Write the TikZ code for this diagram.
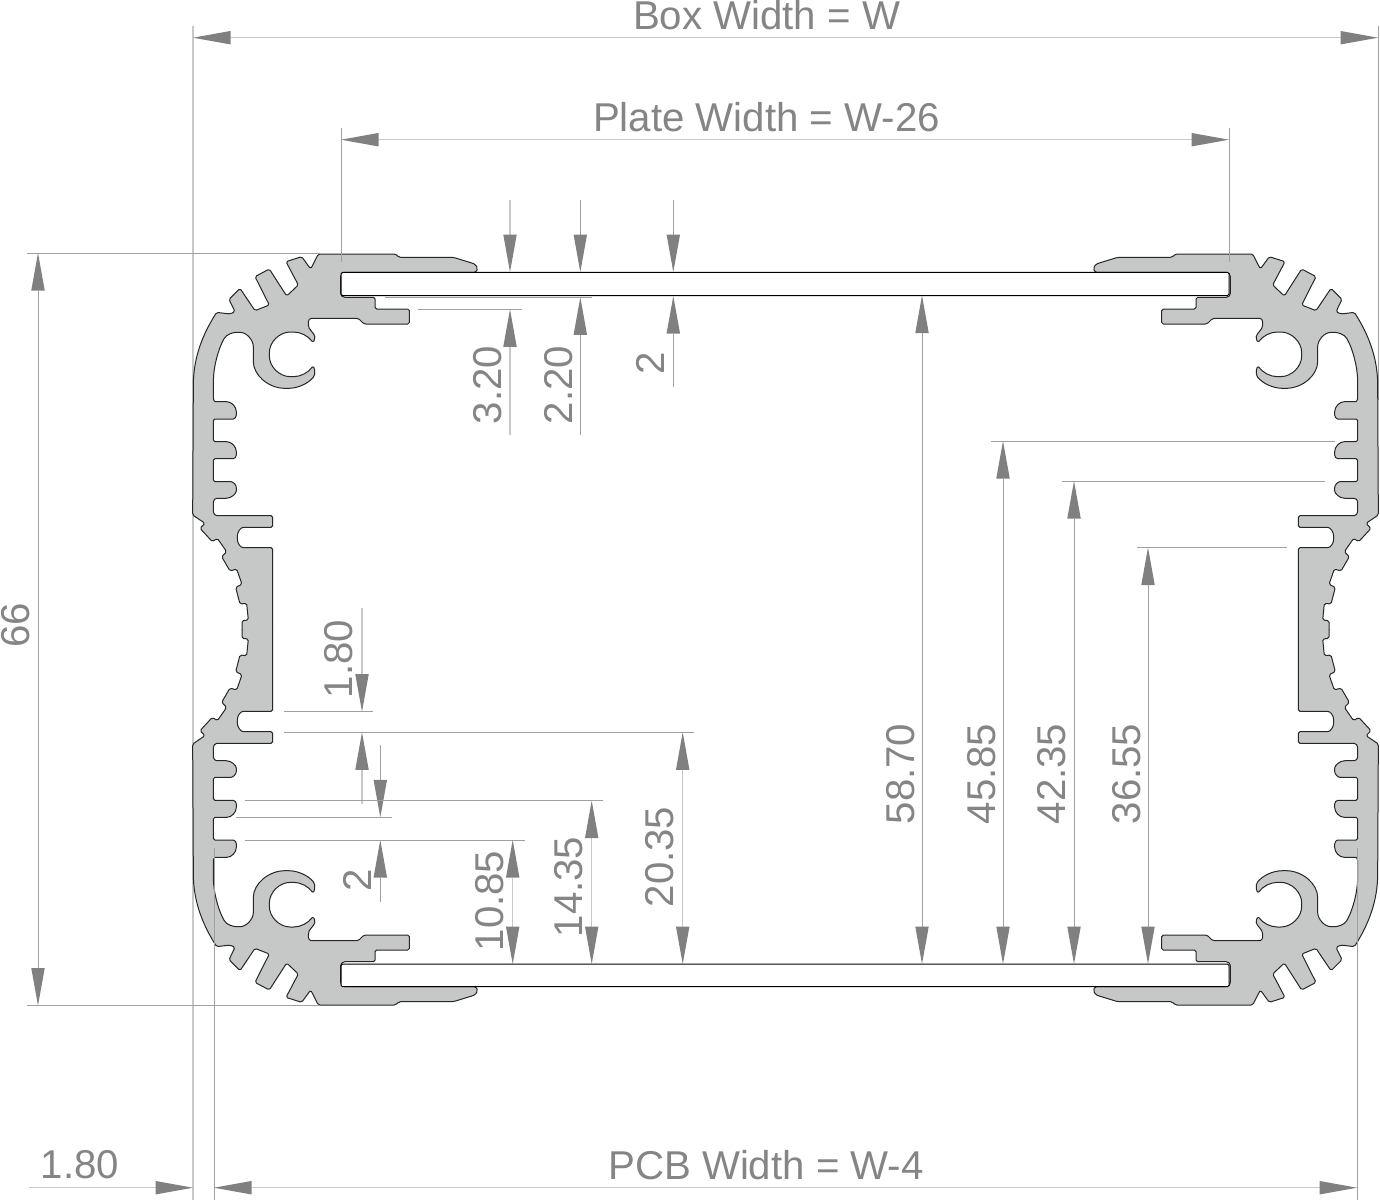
\documentclass[tikz,border=0pt]{standalone}
\usepackage{fontspec}
\setmainfont{Liberation Sans}
\usetikzlibrary{arrows.meta}
\definecolor{dimtext}{HTML}{858585}
\definecolor{dimtip}{HTML}{808080}
\definecolor{dimdark}{HTML}{A0A0A0}
\definecolor{dimlight}{HTML}{C8C8C8}
\definecolor{metal}{HTML}{C6C8C7}
\tikzset{
  dimhead/.tip={Triangle[length=37.5pt,width=13.5pt,color=dimtip,line width=0pt]},
  extline/.style={draw=dimdark,line width=1pt},
  extlight/.style={draw=dimlight,line width=1.3pt},
  both/.style={arrows={dimhead-dimhead}},
  endhead/.style={arrows={-dimhead}},
  label/.style={font=\fontsize{40.2}{40}\selectfont,text=dimtext,inner sep=0pt},
  vlabel/.style={label,rotate=90},
  profile/.style={fill=metal,draw=black!85,line width=1pt,line cap=round,line join=round,rounded corners=1.6pt},
  plate/.style={fill=white,draw=black,line width=1pt,rounded corners=1.5pt}
}
\newcommand{\quarterprofile}[1]{%
\begin{scope}[#1]
\path[profile] (278,1168.5) -- (278,923) -- (195,923)
 .. controls (180,923) and (172,908) .. (172,893)
 .. controls (172,876) and (182,862) .. (195,862)
 -- (278,862) -- (278,827) -- (115,827)
 .. controls (105,827) and (100,820) .. (100,810) -- (100,790)
 .. controls (100,780) and (106,775) .. (115,775) -- (133,775)
 .. controls (155,775) and (169,760) .. (169,748)
 .. controls (169,735) and (160,725) .. (148,725) -- (100,725) -- (100,656) -- (155,656)
 .. controls (165,656) and (169,650) .. (169,640)
 .. controls (169,620) and (155,605) .. (135,605) -- (100,605) -- (100,537) -- (155,537)
 .. controls (165,537) and (169,530) .. (169,520)
 .. controls (169,500) and (155,485) .. (135,485) -- (110,485)
 .. controls (103,485) and (100,478) .. (100,470) -- (100,430)
 .. controls (100,380) and (115,330) .. (130,300)
 .. controls (140,282) and (160,277) .. (175,277)
 .. controls (200,277) and (220,300) .. (220,325) -- (220,360)
 .. controls (220,405) and (265,445) .. (320,445)
 .. controls (355,445) and (385,430) .. (403,408)
 -- (405,395) -- (400,377)
 .. controls (385,398) and (362,410) .. (336,410)
 .. controls (298,410) and (268,380) .. (268,343)
 .. controls (268,306) and (298,276) .. (336,276)
 .. controls (362,276) and (385,288) .. (399,308)
 -- (405,295)
 .. controls (403,278) and (385,270) .. (385,250)
 .. controls (385,240) and (390,235) .. (398,235)
 -- (535,235) -- (552,252) -- (688,252) -- (688,207) -- (585,207) -- (585,172)
 -- (490,172) -- (482,165) -- (482,105) -- (490,97) -- (888,97) -- (893,85) -- (885,72)
 -- (820,52) -- (657,52) -- (647,42) -- (415,42) -- (392,87) -- (365,50) -- (318,65)
 -- (355,135) -- (320,168) -- (268,87) -- (225,110) -- (268,195) -- (225,212)
 -- (180,145) -- (147,178) -- (165,215) -- (150,222) -- (110,217)
 .. controls (70,280) and (40,350) .. (40,440) -- (38,825)
 -- (75,850) -- (60,865) -- (97,905) -- (112,895) -- (140,935) -- (125,950)
 -- (150,993) -- (170,987) -- (186,1033) -- (167,1042) -- (180,1092) -- (200,1090)
 -- (205,1140) -- (186,1142) -- (186,1168.5);
\end{scope}}
\begin{document}
\begin{tikzpicture}[x=1pt,y=-1pt]
\useasboundingbox (0,0) rectangle (1380,1200);
\fill[white] (0,0) rectangle (1380,1200);
% outer extension lines run behind the profile
\draw[extlight] (193,26) -- (193,1200);
\draw[extline] (1378,26) -- (1378,400);
% profile
\fill[metal] (243,625) rectangle (272,634);
\fill[metal] (1299,625) rectangle (1328,634);
\quarterprofile{shift={(180,240)},xscale=.33333,yscale=.33333}
\quarterprofile{shift={(1391,240)},xscale=-.33333,yscale=.33333}
\quarterprofile{shift={(180,1019)},xscale=.33333,yscale=-.33333}
\quarterprofile{shift={(1391,1019)},xscale=-.33333,yscale=-.33333}
\path[plate] (341,272.3) rectangle (1229,295.5);
\path[plate] (341,964) rectangle (1229,986.7);
% overall widths
\draw[extline] (214,848) -- (214,1200);
\draw[extline] (1357,848) -- (1357,1200);
\draw[extlight,both] (193,37.7) -- (1378,37.7);
\draw[extline] (341,128) -- (341,262);
\draw[extline] (1229,128) -- (1229,262);
\draw[extlight,both] (341,139.7) -- (1229,139.7);
\draw[extlight,both] (214,1187.7) -- (1357,1187.7);
\draw[extlight,endhead] (29,1187.7) -- (193,1187.7);
% height 66
\draw[extline] (27,253) -- (320,253);
\draw[extline] (27,1005.5) -- (320,1005.5);
\draw[extline,both] (38,253) -- (38,1005.5);
% plate slot dimensions
\draw[extlight,endhead] (510,200) -- (510,272);
\draw[extlight,endhead] (510,435) -- (510,309.3);
\draw[extline,endhead] (580.3,200) -- (580.3,272);
\draw[extline,endhead] (580.3,435) -- (580.3,297.3);
\draw[extline,endhead] (673.3,200) -- (673.3,272);
\draw[extline,endhead] (673.3,387) -- (673.3,296);
\draw[extline] (418,309.3) -- (522,309.3);
\draw[extline] (385,297.3) -- (592,297.3);
% right heights
\draw[extline,both] (922,295.5) -- (922,964);
\draw[extline] (991,441) -- (1335,441);
\draw[extline,both] (1003,441) -- (1003,964);
\draw[extline] (1062,481) -- (1325,481);
\draw[extline,both] (1074,481) -- (1074,964);
\draw[extline] (1137,547.5) -- (1287,547.5);
\draw[extline,both] (1148,547.5) -- (1148,964);
% left lower dimensions
\draw[extlight,endhead] (362,608) -- (362,711.7);
\draw[extlight,endhead] (362,804) -- (362,732.3);
\draw[extline] (284,711.7) -- (373,711.7);
\draw[extline] (284,732.3) -- (694,732.3);
\draw[extline,endhead] (380.3,745) -- (380.3,817.3);
\draw[extline,endhead] (380.3,901.7) -- (380.3,840);
\draw[extline] (236,817.3) -- (392,817.3);
\draw[extline] (245,800.7) -- (603,800.7);
\draw[extline] (245,840) -- (525,840);
\draw[extlight,both] (512.7,840) -- (512.7,964);
\draw[extlight,both] (591.7,800.7) -- (591.7,964);
\draw[extlight,both] (682.7,732.3) -- (682.7,964);
% labels
\node[label] (boxw) at (766.5,15.5) {Box Width = W};
\node[label] (platew) at (766.5,117) {Plate Width = W-26};
\node[label] (pcbw) at (766,1165) {PCB Width = W-4};
\node[label] (wall) at (80,1165) {1.80};
\node[vlabel] (h66) at (16,625) {66};
\node[vlabel] (a320) at (488,385) {3.20};
\node[vlabel] (a220) at (558.5,385) {2.20};
\node[vlabel] (a2) at (650.5,363) {2};
\node[vlabel] (b180) at (339,659) {1.80};
\node[vlabel] (b2) at (357.5,880) {2};
\node[vlabel] (b1085) at (490,901) {10.85};
\node[vlabel] (b1435) at (568.5,887) {14.35};
\node[vlabel] (b2035) at (660,857) {20.35};
\node[vlabel] (c5870) at (901,774) {58.70};
\node[vlabel] (c4585) at (982,774) {45.85};
\node[vlabel] (c4235) at (1052,774) {42.35};
\node[vlabel] (c3655) at (1127,774) {36.55};
\end{tikzpicture}
\end{document}
